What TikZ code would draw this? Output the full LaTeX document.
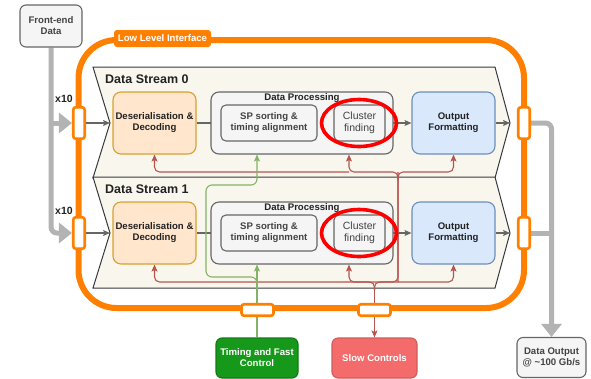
\documentclass[tikz,border=0pt]{standalone}
\usepackage{fontspec}
\setmainfont{Liberation Sans}
\usetikzlibrary{arrows.meta}
\definecolor{orng}{HTML}{FF8000}
\definecolor{desfill}{HTML}{FFE6CC}
\definecolor{desdraw}{HTML}{D9A030}
\definecolor{offill}{HTML}{DAE8FC}
\definecolor{ofdraw}{HTML}{6C8EBF}
\definecolor{gfill}{HTML}{F5F5F5}
\definecolor{gdraw}{HTML}{666666}
\definecolor{panelfill}{HTML}{F9F7ED}
\definecolor{paneldraw}{HTML}{36393D}
\definecolor{redline}{HTML}{B85450}
\definecolor{greenline}{HTML}{82B366}
\definecolor{thickgray}{HTML}{B3B3B3}
\definecolor{tfcfill}{HTML}{16991A}
\definecolor{scfill}{HTML}{F46B6B}
\definecolor{txt}{HTML}{222222}
\newcommand{\fsb}{\fontsize{9.6}{11}\selectfont\bfseries}
\newcommand{\fsr}{\fontsize{10.5}{11.5}\selectfont}
\pgfdeclarelayer{back}
\pgfdeclarelayer{mid}
\pgfsetlayers{back,mid,main}
\begin{document}
\begin{tikzpicture}[x=1pt,y=-1pt,
  basebox/.style={draw, line width=1.1pt, align=center, inner sep=0pt, font=\fsb, text=txt},
  desbox/.style={basebox, fill=desfill, draw=desdraw, rounded corners=8pt, minimum width=83pt, minimum height=62pt},
  dpbox/.style={basebox, fill=gfill, draw=gdraw, rounded corners=8pt, minimum width=182pt, minimum height=62pt},
  spbox/.style={basebox, fill=gfill, draw=gdraw, rounded corners=5pt, minimum width=96pt, minimum height=36pt, text=txt!85},
  cfbox/.style={basebox, fill=gfill, draw=gdraw, rounded corners=5pt, minimum width=51pt, minimum height=36pt, font=\fsr, text=txt!85},
  ofbox/.style={basebox, fill=offill, draw=ofdraw, rounded corners=8pt, minimum width=83pt, minimum height=62pt},
  port/.style={draw=orng, fill=white, line width=2.6pt, rounded corners=2.5pt, inner sep=0pt},
  vport/.style={port, minimum width=11.5pt, minimum height=31.5pt},
  hport/.style={port, minimum width=32pt, minimum height=11.5pt},
  panel/.style={fill=panelfill, draw=paneldraw, line width=1pt},
  garrow/.style={draw=gdraw, line width=1.1pt, -{Stealth[length=7pt,width=6pt,inset=1.5pt]}},
  rarr/.style={draw=redline, line width=1.1pt, rounded corners=5pt, -{Stealth[length=7pt,width=6pt,inset=1.5pt]}},
  gnarr/.style={draw=greenline, line width=1.1pt, rounded corners=6pt, -{Stealth[length=7pt,width=6pt,inset=1.5pt]}},
  thick gray/.style={draw=thickgray, line width=5pt, rounded corners=6pt},
  thickarr/.style={thick gray, -{Triangle[length=13pt,width=20pt]}},
  hilite/.style={draw=red, line width=3.6pt}
]
\useasboundingbox (0,0) rectangle (591,378);

% ---------- nodes ----------
\node[basebox, fill=gfill, draw=gdraw, rounded corners=6pt, minimum width=62pt, minimum height=42pt, text=txt!85] (fe) at (51,26) {Front-end\\Data};
\node[fill=orng, rounded corners=3pt, text=white, font=\fsb, minimum width=97pt, minimum height=17pt, inner sep=0pt] (lli) at (162.5,38.5) {Low Level Interface};

\foreach \s/\dy in {0/0,1/110}{
  \node[anchor=west, inner sep=0pt, font=\fontsize{12.5}{14}\selectfont\bfseries, text=txt] (ds\s) at (105,79.5+\dy) {Data Stream \s};
  \node[desbox] (des\s) at (154.5,123+\dy) {Deserialisation \&\\Decoding};
  \node[dpbox] (dp\s) at (302,123+\dy) {};
  \node[inner sep=0pt, font=\fsb, text=txt] (dpl\s) at (302,98.5+\dy) {Data Processing};
  \node[spbox] (sp\s) at (269,123+\dy) {SP sorting \&\\timing alignment};
  \node[cfbox] (cf\s) at (359.5,123+\dy) {Cluster\\finding};
  \node[ofbox] (of\s) at (453.5,123+\dy) {Output\\Formatting};
  \node[vport] (pl\s) at (79,123+\dy) {};
  \node[vport] (pr\s) at (524,123+\dy) {};
  \coordinate (nl\s) at (110,123+\dy);
  \coordinate (tr\s) at (510,123+\dy);
}
\node[font=\fontsize{10.5}{12}\selectfont\bfseries, inner sep=0pt, text=txt] (xa) at (64,99) {x10};
\node[font=\fontsize{10.5}{12}\selectfont\bfseries, inner sep=0pt, text=txt] (xb) at (64,211) {x10};

\node[hport] (pb0) at (257.5,310) {};
\node[hport] (pb1) at (374.5,310) {};

\node[basebox, fill=tfcfill, draw=tfcfill!80!black, rounded corners=6pt, minimum width=82pt, minimum height=40pt, text=white] (tfc) at (257,358) {Timing and Fast\\Control};
\node[basebox, fill=scfill, draw=scfill!85!black, rounded corners=6pt, minimum width=85pt, minimum height=40pt, text=white] (slow) at (374.5,358) {Slow Controls};
\node[basebox, fill=gfill, draw=gdraw, rounded corners=6pt, minimum width=69pt, minimum height=40pt, text=txt!85] (dout) at (551.5,357.5) {Data Output\\@ \textasciitilde100 Gb/s};

% helper coordinates
\coordinate (xr) at (349,0);
\coordinate (jr0) at (398,172);
\coordinate (jr0b) at (398,180);
\coordinate (jr1) at (398,282);
\coordinate (jsb) at (374.5,290);

% ---------- background: thick gray lines and orange frame ----------
\begin{pgfonlayer}{back}
  \draw[thickarr] (fe.south) -- (fe.south |- pl1) -- (pl1.west);
  \draw[thickarr] (fe.south |- pl0) -- (pl0.west);
  \draw[thickarr] (pr0.east) -| (dout.north);
  \draw[thick gray] (pr1.east) -- (pr1.east -| dout.north);
  \draw[orng, line width=6pt, rounded corners=38pt] (78.5,40) rectangle (524,308);
\end{pgfonlayer}

% ---------- panels and connectors ----------
\begin{pgfonlayer}{mid}
\foreach \s/\dy in {0/0,1/110}{
  \draw[panel] (93,67+\dy) -- (495,67+\dy) -- (tr\s) -- (495,178+\dy) -- (93,178+\dy) -- (nl\s) -- cycle;
  \draw[garrow] (pl\s.east) -- (nl\s);
  \draw[garrow] (des\s.east) -- (sp\s.west);
  \draw[garrow] (sp\s.east) -- (cf\s.west);
  \draw[garrow] (cf\s.east) -- (of\s.west);
  \draw[garrow] (of\s.east) -- (tr\s);
}
% red: stream 0
\draw[rarr] (jr1) -- (jr0) -| (dp0.south -| xr);
\draw[rarr] (jr0b) |- (of0.south |- jr0) -- (of0.south);
\draw[rarr] (jr0 -| xr) -- (des0.south |- jr0) -- (des0.south);
% red: stream 1
\draw[rarr] (jr0) -- (jr1) -- (des1.south |- jr1) -- (des1.south);
\draw[rarr] (jsb) |- (xr |- jr1) -- (dp1.south -| xr);
\draw[rarr] (jsb) |- (of1.south |- jr1) -- (of1.south);
\draw[rarr] (jsb) -- (slow.north);
% green
\draw[gnarr] (tfc.north) -- (tfc.north |- dp1.south);
\draw[gnarr] (tfc.north |- 0,290) -- (tfc.north |- 0,277) -- (206,277) -- (206,185) -- (tfc.north |- 0,185) -- (tfc.north |- dp0.south);
\end{pgfonlayer}

% ---------- highlight ellipses ----------
\draw[hilite] (359,123) ellipse [x radius=37.5pt, y radius=23.5pt];
\draw[hilite] (359,233) ellipse [x radius=37.5pt, y radius=23.5pt];
\end{tikzpicture}
\end{document}
